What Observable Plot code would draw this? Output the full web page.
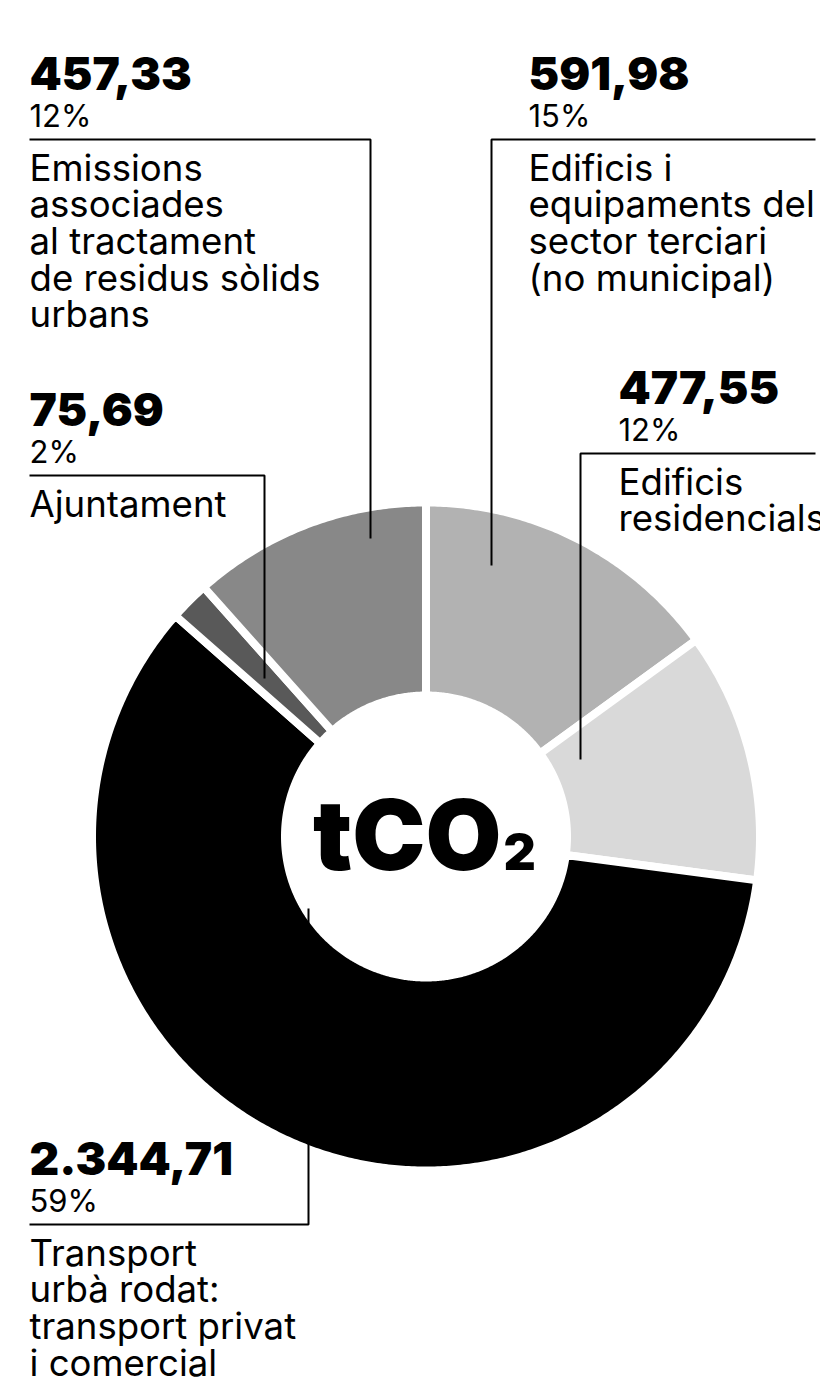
<!DOCTYPE html>
<html><head><meta charset="utf-8">
<script src="https://cdn.jsdelivr.net/npm/d3@7"></script>
<script src="https://cdn.jsdelivr.net/npm/@observablehq/plot@0.6"></script>
<style>html,body{margin:0;padding:0;background:#fff;overflow:hidden}</style>
</head><body><div id="chart"></div>
<script>
// ---- DATA ----
const categories = [
  "Edificis i equipaments del sector terciari (no municipal)",
  "Edificis residencials",
  "Transport urbà rodat: transport privat i comercial",
  "Ajuntament",
  "Emissions associades al tractament de residus sòlids urbans"
];
const values = [591.98, 477.55, 2344.71, 75.69, 457.33];
const labelLines = [
  ["Edificis i", "equipaments del", "sector terciari", "(no municipal)"],
  ["Edificis", "residencials"],
  ["Transport", "urbà rodat:", "transport privat", "i comercial"],
  ["Ajuntament"],
  ["Emissions", "associades", "al tractament", "de residus sòlids", "urbans"]
];
const unitMain = "tCO";
const unitSub = "2";

// ---- STYLE / LAYOUT ----
const palette = ["#b2b2b2", "#d9d9d9", "#000000", "#595959", "#888888"];
const W = 820, H = 1393;
const cx = 425.5, cy = 836, rOuter = 334, rInner = 141, gap = 8;
const layout = [
  {tx: 528, base: 89,   hEnd: 815, vx: 491, vEnd: 565},
  {tx: 618, base: 403,  hEnd: 815, vx: 580, vEnd: 759},
  {tx: 29,  base: 1174, hEnd: 29,  vx: 308, vEnd: 908},
  {tx: 29,  base: 425,  hEnd: 29,  vx: 264, vEnd: 678},
  {tx: 29,  base: 89,   hEnd: 29,  vx: 370, vEnd: 538}
];
const pctOff = 37, lineOff = 50, descOff = 91, descLead = 36.7;
const numSize = 46, pctSize = 31, descSize = 36.6;
const FONT = "Inter, 'Noto Sans', sans-serif";

// ---- DERIVED ----
const total = d3.sum(values);
const ends = d3.cumsum(values);
const starts = [0, ...Array.from(ends).slice(0, -1)];
const angle = Plot.scale({x: {domain: [0, total], range: [0, 2 * Math.PI]}});
const locale = d3.formatLocale({decimal: ",", thousands: ".", grouping: [3], currency: ["", "€"]});
const fmtNum = locale.format(",.2f");
const fmtPct = d3.format(".0%");

const slicePts = [];
categories.forEach((c, i) => {
  const a0 = angle.apply(starts[i]), a1 = angle.apply(ends[i]);
  const n = Math.max(2, Math.ceil((a1 - a0) / (Math.PI / 360)));
  for (let k = 0; k <= n; k++) {
    const a = a0 + (a1 - a0) * k / n;
    slicePts.push({category: c, x: cx + rOuter * Math.sin(a), y: cy - rOuter * Math.cos(a)});
  }
  for (let k = n; k >= 0; k--) {
    const a = a0 + (a1 - a0) * k / n;
    slicePts.push({category: c, x: cx + rInner * Math.sin(a), y: cy - rInner * Math.cos(a)});
  }
});

const leaderPts = [];
layout.forEach((L, i) => {
  const ly = L.base + lineOff;
  leaderPts.push({k: i, x: L.hEnd, y: ly}, {k: i, x: L.vx, y: ly}, {k: i, x: L.vx, y: L.vEnd});
});

const numRows = categories.map((c, i) => ({x: layout[i].tx, y: layout[i].base, t: fmtNum(values[i])}));
const pctRows = categories.map((c, i) => ({x: layout[i].tx, y: layout[i].base + pctOff, t: fmtPct(values[i] / total)}));
const lh = descLead / descSize;
const descRows = labelLines.map((lines, i) => ({
  x: layout[i].tx,
  y: layout[i].base + descOff - 0.71 * lh * descSize,
  t: lines.join("\n")
}));

const chart = Plot.plot({
  width: W, height: H,
  margin: 0,
  x: {type: "identity", axis: null},
  y: {type: "identity", axis: null},
  color: {domain: categories, range: palette},
  style: {background: "#fff", overflow: "visible"},
  marks: [
    Plot.line(slicePts, {x: "x", y: "y", z: "category", fill: "category", stroke: "#fff", strokeWidth: gap, curve: "linear-closed", strokeLinejoin: "miter", strokeMiterlimit: 4}),
    Plot.line(leaderPts, {x: "x", y: "y", z: "k", stroke: "#000", strokeWidth: 2, strokeLinejoin: "miter", strokeLinecap: "butt", curve: "linear"}),
    Plot.text(numRows, {x: "x", y: "y", text: "t", textAnchor: "start", lineAnchor: "bottom", fontFamily: FONT, fontWeight: 900, fontSize: numSize, fill: "#000"}),
    Plot.text(pctRows, {x: "x", y: "y", text: "t", textAnchor: "start", lineAnchor: "bottom", fontFamily: FONT, fontWeight: 400, fontSize: pctSize, fill: "#000"}),
    Plot.text(descRows, {x: "x", y: "y", text: "t", textAnchor: "start", lineAnchor: "top", lineHeight: lh, fontFamily: FONT, fontWeight: 400, fontSize: descSize, fill: "#000"}),
    Plot.text([unitMain], {x: () => 501, y: () => 869, text: d => d, textAnchor: "end", lineAnchor: "bottom", fontFamily: FONT, fontWeight: 900, fontSize: 98, fill: "#000"}),
    Plot.text([unitSub], {x: () => 503, y: () => 869, text: d => d, textAnchor: "start", lineAnchor: "bottom", fontFamily: FONT, fontWeight: 900, fontSize: 50, fill: "#000"})
  ]
});
document.getElementById("chart").append(chart);
</script>
</body></html>
